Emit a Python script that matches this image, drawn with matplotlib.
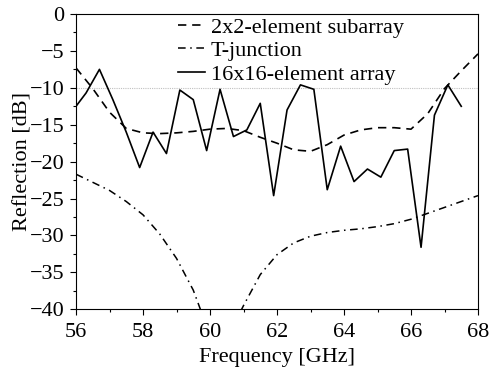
import matplotlib
matplotlib.use("Agg")
import matplotlib.pyplot as plt
import numpy as np
from matplotlib.ticker import MultipleLocator

plt.rcParams['font.family'] = ['Liberation Serif', 'DejaVu Serif']

# 16x16-element array (solid)
arr_freq = [55.9 + 0.4 * k for k in range(30)]
arr_refl = [-13.1, -10.7, -7.5, -11.6, -16.0, -20.8, -16.0, -18.9, -10.3, -11.6,
            -18.5, -10.2, -16.6, -15.7, -12.1, -24.6, -13.0, -9.6, -10.2, -23.8,
            -17.9, -22.7, -21.0, -22.1, -18.5, -18.3, -31.6, -13.7, -9.6, -12.5]

# 2x2-element subarray (dashed)
sub_freq = [56.0, 56.5, 57.0, 57.5, 58.0, 58.5, 59.0, 59.5, 60.0, 60.5, 61.0, 61.5,
            62.0, 62.5, 63.0, 63.5, 64.0, 64.5, 65.0, 65.5, 66.0, 66.5, 67.0, 67.5, 68.0]
sub_refl = [-7.3, -10.1, -13.3, -15.5, -16.1, -16.2, -16.1, -15.9, -15.6, -15.5,
            -15.8, -16.7, -17.5, -18.4, -18.6, -17.7, -16.4, -15.7, -15.4, -15.4,
            -15.6, -13.5, -10.1, -7.7, -5.4]

# T-junction (dash-dot)
tj_freq = [56.0, 56.5, 57.0, 57.5, 58.0, 58.5, 59.0, 59.5, 60.0, 60.5, 60.8, 61.0,
           61.5, 62.0, 62.5, 63.0, 63.5, 64.0, 64.5, 65.0, 65.5, 66.0, 66.5, 67.0, 67.5, 68.0]
tj_refl = [-21.7, -22.8, -23.9, -25.4, -27.2, -29.8, -33.1, -37.4, -43.5, -45.0, -41.3, -39.5,
           -35.3, -32.6, -31.0, -30.1, -29.6, -29.3, -29.1, -28.8, -28.4, -27.8, -27.0, -26.2,
           -25.4, -24.6]

labels = ['2x2-element subarray', 'T-junction', '16x16-element array']

fig = plt.figure(figsize=(4.9, 3.69), dpi=100)
ax = fig.add_axes([76/490, 1 - 309.3/369, (478-76)/490, (309.3-14)/369])

ax.axhline(-10, color='#c0c0c0', lw=0.8, ls=(0, (1, 1)), zorder=1)
ax.plot(sub_freq, sub_refl, color='black', lw=1.2, ls=(0, (5, 3.5)), label=labels[0])
ax.plot(tj_freq, tj_refl, color='black', lw=1.1, ls=(0, (5, 3, 1, 3)), label=labels[1])
ax.plot(arr_freq, arr_refl, color='black', lw=1.2, label=labels[2])

ax.set_xlim(56, 68)
ax.set_ylim(-40, 0)
ax.xaxis.set_major_locator(MultipleLocator(2))
ax.xaxis.set_minor_locator(MultipleLocator(1))
ax.yaxis.set_major_locator(MultipleLocator(5))
ax.yaxis.set_minor_locator(MultipleLocator(2.5))
ax.tick_params(which='major', direction='out', length=4, width=0.8, labelsize=16)
ax.tick_params(which='minor', direction='out', length=2, width=0.8)
ax.tick_params(axis='x', which='major', pad=6)
ax.tick_params(axis='y', which='major', pad=4.5)
for s in ax.spines.values():
    s.set_linewidth(0.8)

ax.set_xlabel('Frequency [GHz]', fontsize=16, labelpad=4.5)
ax.set_ylabel('Reflection [dB]', fontsize=16, labelpad=-2)

ax.legend(loc='upper left', bbox_to_anchor=(0.2525, 0.99), frameon=False, fontsize=16,
          handlelength=1.25, handletextpad=0.25, borderpad=0.0, labelspacing=0.14,
          borderaxespad=0)

fig.savefig('out.png', dpi=100)
